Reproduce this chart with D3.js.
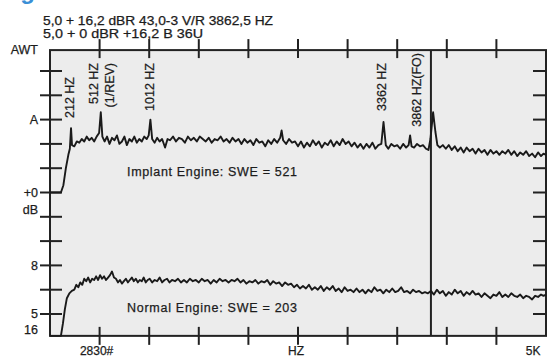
<!DOCTYPE html>
<html>
<head>
<meta charset="utf-8">
<script src="https://cdn.jsdelivr.net/npm/d3@7"></script>
<style>
  body { margin: 0; background: #fff; }
  text { font-family: "Liberation Sans", Arial, sans-serif; fill: #1c1c1c; stroke: #1c1c1c; stroke-width: 0.25px; }
</style>
</head>
<body>
<div id="chart"></div>
<script>
// header lines above the plot
const headerLines = ['5,0 + 16,2 dBR 43,0-3 V/R 3862,5 HZ', '5,0 + 0 dBR +16,2 B 36U'];

// left axis labels: [tick value, label]
const leftLabels = [[10.86, 'AWT'], [8, 'A'], [5, '+0'], [4.3, 'dB'], [2, '8'], [0, '5'], [-0.65, '16']];
const bottomLabels = [[470, '2830#'], [2480, 'HZ'], [4870, '5K']];

// peak annotations: [hz position, text]
const peakLabels = [[202, '212 HZ'], [444, '512 HZ'], [605, '(1/REV)'], [1008, '1012 HZ'], [3347, '3362 HZ'], [3700, '3862 HZ(FO)']];

const cursorHz = 3840;

// implant engine spectrum [hz, level]
const implant = [[0,5.0],[110,5.0],[135,5.3],[160,6.0],[185,6.55],[200,6.8],[212,7.65],[222,6.95],[245,6.9],[270,7.1],[295,7.05],[320,7.2],[345,7.1],[370,7.3],[395,7.15],[420,7.25],[445,7.1],[470,7.3],[495,7.45],[512,8.3],[528,7.3],[550,7.1],[575,7.3],[600,7.0],[625,7.25],[650,7.15],[675,7.35],[700,7.0],[725,7.1],[750,7.3],[775,6.95],[800,7.2],[825,7.1],[850,7.3],[875,7.05],[900,7.2],[925,7.1],[950,7.3],[975,7.2],[995,7.35],[1012,8.0],[1030,7.2],[1055,7.05],[1080,7.25],[1105,7.1],[1130,7.2],[1160,6.85],[1185,7.2],[1210,7.15],[1240,7.3],[1270,7.1],[1300,7.25],[1330,7.2],[1360,7.05],[1390,7.3],[1420,7.15],[1450,7.25],[1480,7.1],[1510,7.3],[1540,7.2],[1570,7.1],[1600,7.25],[1630,7.05],[1660,7.2],[1690,7.15],[1720,7.3],[1750,7.1],[1780,7.2],[1810,7.05],[1840,7.25],[1870,7.1],[1900,7.2],[1930,7.0],[1960,7.2],[1990,7.05],[2020,7.15],[2050,6.95],[2080,7.2],[2110,7.05],[2140,7.1],[2170,6.9],[2200,7.15],[2230,7.0],[2260,7.2],[2290,7.05],[2320,7.25],[2335,7.55],[2350,7.15],[2380,7.0],[2410,7.2],[2440,7.05],[2470,7.1],[2500,6.9],[2530,7.1],[2560,6.85],[2590,7.05],[2620,6.9],[2650,7.15],[2680,6.95],[2710,7.1],[2740,6.85],[2770,7.05],[2800,6.95],[2830,7.15],[2860,6.9],[2890,7.1],[2920,6.95],[2950,7.2],[2980,7.0],[3010,7.1],[3040,6.9],[3070,7.05],[3100,6.85],[3130,7.0],[3160,6.8],[3190,7.0],[3220,6.85],[3250,7.05],[3280,6.8],[3310,6.95],[3340,7.0],[3362,7.9],[3385,6.95],[3410,6.8],[3440,7.0],[3470,6.9],[3500,6.95],[3530,6.8],[3560,7.0],[3590,6.85],[3615,6.95],[3630,7.35],[3645,6.9],[3670,6.85],[3700,7.0],[3730,6.9],[3760,6.95],[3790,6.8],[3815,6.75],[3835,7.2],[3862,8.3],[3885,7.5],[3905,6.95],[3930,6.85],[3960,6.95],[3990,6.8],[4020,6.95],[4050,6.75],[4080,6.9],[4110,6.7],[4140,6.85],[4170,6.65],[4200,6.85],[4230,6.7],[4260,6.8],[4290,6.6],[4320,6.8],[4350,6.65],[4380,6.75],[4410,6.55],[4440,6.75],[4470,6.6],[4500,6.7],[4530,6.55],[4560,6.7],[4590,6.6],[4620,6.75],[4650,6.55],[4680,6.7],[4710,6.5],[4740,6.65],[4770,6.55],[4800,6.7],[4830,6.5],[4860,6.6],[4890,6.45],[4920,6.65],[4950,6.5],[4975,6.6],[5000,6.55]];

// normal engine spectrum [hz, level]
const normal = [[0,-0.9],[110,-0.9],[130,-0.4],[150,0.2],[170,0.65],[195,0.85],[220,0.95],[245,1.0],[265,1.2],[285,1.1],[305,1.3],[325,1.2],[345,1.45],[365,1.35],[385,1.5],[405,1.3],[425,1.45],[445,1.4],[465,1.55],[485,1.4],[505,1.6],[525,1.45],[545,1.55],[565,1.4],[585,1.5],[605,1.6],[625,1.75],[645,1.5],[665,1.45],[685,1.3],[705,1.4],[725,1.25],[745,1.35],[765,1.45],[785,1.3],[805,1.4],[825,1.5],[845,1.35],[865,1.45],[885,1.3],[905,1.4],[925,1.35],[945,1.5],[965,1.3],[985,1.4],[1005,1.45],[1030,1.3],[1055,1.4],[1080,1.35],[1105,1.5],[1130,1.3],[1155,1.4],[1180,1.45],[1205,1.3],[1230,1.4],[1260,1.35],[1290,1.45],[1320,1.3],[1350,1.4],[1380,1.3],[1410,1.45],[1440,1.35],[1470,1.4],[1500,1.3],[1530,1.45],[1560,1.35],[1590,1.4],[1620,1.25],[1650,1.4],[1680,1.3],[1710,1.45],[1740,1.35],[1770,1.4],[1800,1.3],[1830,1.4],[1860,1.35],[1890,1.45],[1920,1.3],[1950,1.4],[1980,1.25],[2010,1.35],[2040,1.3],[2070,1.4],[2100,1.25],[2130,1.35],[2160,1.3],[2190,1.4],[2220,1.2],[2250,1.35],[2280,1.25],[2310,1.3],[2340,1.15],[2370,1.3],[2400,1.2],[2430,1.25],[2460,1.1],[2490,1.2],[2520,1.05],[2550,1.15],[2580,1.05],[2610,1.2],[2640,1.0],[2670,1.1],[2700,1.0],[2730,1.15],[2760,0.95],[2790,1.1],[2820,1.0],[2850,1.15],[2880,0.95],[2910,1.05],[2940,0.9],[2970,1.1],[3000,0.95],[3030,1.0],[3060,0.9],[3090,1.05],[3120,0.9],[3150,1.0],[3180,0.85],[3210,1.0],[3240,0.9],[3270,1.1],[3300,0.95],[3330,1.0],[3360,0.85],[3390,1.0],[3420,0.9],[3450,1.05],[3480,0.9],[3510,0.95],[3540,1.1],[3570,0.9],[3600,0.95],[3630,0.85],[3660,1.0],[3690,0.9],[3720,0.95],[3750,0.85],[3780,0.9],[3810,0.85],[3840,0.95],[3870,0.8],[3900,1.0],[3930,0.85],[3960,0.95],[3990,0.75],[4020,0.9],[4050,0.8],[4080,1.0],[4110,0.85],[4140,0.95],[4170,0.75],[4200,0.9],[4230,0.8],[4260,0.95],[4290,0.8],[4320,0.85],[4350,0.7],[4380,0.85],[4410,0.75],[4440,0.65],[4470,0.8],[4500,0.75],[4530,0.9],[4560,0.7],[4590,0.8],[4620,0.7],[4650,0.85],[4680,0.75],[4710,0.7],[4740,0.8],[4770,0.65],[4800,0.75],[4830,0.7],[4860,0.6],[4890,0.75],[4920,0.7],[4950,0.8],[4975,0.75],[5000,0.8]];

const yTicks = [0, 1, 2, 3, 4, 5, 6, 7, 8, 9, 10];
const xTicks = [500, 1000, 1500, 2000, 2500, 3000, 3500, 4000, 4500];

const width = 548, height = 358;
const yMin = -0.9, yMax = 10.86;

const svg = d3.select('#chart').append('svg')
  .attr('width', width).attr('height', height);

const x = d3.scaleLinear().domain([0, 5000]).range([50, 546]);
const y = d3.scaleLinear().domain([0, 10]).range([314, 71]);

// title fragment cut at the top
svg.append('text')
  .attr('x', -1).attr('y', -1)
  .style('font-size', '24px').style('font-weight', 'bold')
  .style('fill', '#3b8fd6').style('stroke', 'none')
  .text('Figure 4');

// header lines, stretched to the widths seen in the scan
const headerWidths = [230, 160];
svg.selectAll('.hdr')
  .data(headerLines)
  .enter().append('text')
  .attr('x', 43)
  .attr('y', (d, i) => 25 + i * 13)
  .attr('textLength', (d, i) => headerWidths[i])
  .attr('lengthAdjust', 'spacingAndGlyphs')
  .style('font-size', '12px')
  .text(d => d);

// plot background + frame
svg.append('rect')
  .attr('x', x(0)).attr('y', y(yMax))
  .attr('width', x(5000) - x(0)).attr('height', y(yMin) - y(yMax))
  .attr('fill', '#ececec')
  .attr('stroke', '#222').attr('stroke-width', 2);

// ticks
const tickStyle = sel => sel.attr('stroke', '#222').attr('stroke-width', 2);

svg.selectAll('.ltick').data(yTicks).enter().append('line')
  .attr('x1', x(0) - 10).attr('x2', x(0) + 12)
  .attr('y1', d => y(d)).attr('y2', d => y(d)).call(tickStyle);

svg.selectAll('.rtick').data(yTicks).enter().append('line')
  .attr('x1', x(5000) - 13).attr('x2', x(5000))
  .attr('y1', d => y(d)).attr('y2', d => y(d)).call(tickStyle);

svg.selectAll('.ttick').data(xTicks).enter().append('line')
  .attr('x1', d => x(d)).attr('x2', d => x(d))
  .attr('y1', y(yMax) - 11).attr('y2', y(yMax) + 8).call(tickStyle);

svg.selectAll('.btick').data(xTicks).enter().append('line')
  .attr('x1', d => x(d)).attr('x2', d => x(d))
  .attr('y1', y(yMin) - 9).attr('y2', y(yMin) + 9).call(tickStyle);

// axis labels
svg.selectAll('.llab').data(leftLabels).enter().append('text')
  .attr('x', 38)
  .attr('y', d => y(d[0]))
  .attr('dy', '0.35em')
  .attr('text-anchor', 'end')
  .style('font-size', '12.5px')
  .text(d => d[1]);

svg.selectAll('.blab').data(bottomLabels).enter().append('text')
  .attr('x', d => x(d[0]))
  .attr('y', 351)
  .attr('dy', '0.35em')
  .attr('text-anchor', 'middle')
  .style('font-size', '12px')
  .text(d => d[1]);

// cursor line
svg.append('line')
  .attr('x1', x(cursorHz)).attr('x2', x(cursorHz))
  .attr('y1', y(yMax)).attr('y2', y(yMin))
  .attr('stroke', '#222').attr('stroke-width', 2);

// spectra
const line = d3.line().x(d => x(d[0])).y(d => y(d[1]));

[implant, normal].forEach(series => {
  svg.append('path')
    .datum(series)
    .attr('fill', 'none')
    .attr('stroke', '#1a1a1a')
    .attr('stroke-width', 1.9)
    .attr('stroke-linejoin', 'round')
    .attr('d', line);
});

// peak annotations (rotated, anchored at the top)
const labelTop = { '212 HZ': 77, '3862 HZ(FO)': 53 };
svg.selectAll('.plab').data(peakLabels).enter().append('text')
  .attr('transform', d => 'translate(' + x(d[0]) + ',' + (labelTop[d[1]] || 63) + ') rotate(-90)')
  .attr('text-anchor', 'end')
  .attr('dy', '0.35em')
  .style('font-size', '12.5px')
  .text(d => d[1]);

svg.append('text')
  .attr('x', 212).attr('y', 172).attr('dy', '0.35em')
  .attr('text-anchor', 'middle')
  .attr('textLength', 170).attr('lengthAdjust', 'spacing')
  .style('font-size', '12.5px')
  .text('Implant Engine: SWE = 521');

svg.append('text')
  .attr('x', 212).attr('y', 308).attr('dy', '0.35em')
  .attr('text-anchor', 'middle')
  .attr('textLength', 170).attr('lengthAdjust', 'spacing')
  .style('font-size', '12.5px')
  .text('Normal Engine: SWE = 203');
</script>
</body>
</html>
